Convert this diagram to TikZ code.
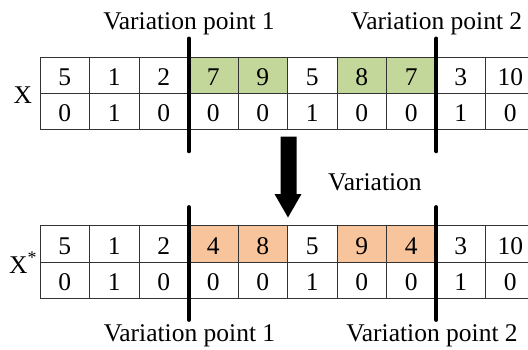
\documentclass[tikz,border=0pt]{standalone}
\usepackage{fontspec}
\setmainfont{Liberation Serif}
\usepackage{tikz}

\definecolor{swapgreen}{RGB}{196,215,155}
\definecolor{swaporange}{RGB}{248,196,155}

\tikzset{
	cell/.style={draw=black!80,line width=0.9pt,minimum width=49.5pt,minimum height=36.5pt,inner sep=0pt,text height=20.5pt,text depth=0pt},
	cutbar/.style={line width=4pt,line cap=round},
	caption/.style={inner sep=0pt,anchor=base}
}

\begin{document}
\begin{tikzpicture}[x=1pt,y=-1pt,font=\fontsize{25.5}{30}\selectfont]
	\useasboundingbox (0,0) rectangle (528,349);
	\clip (0,0) rectangle (528,349);

	% parent X
	\foreach \v/\c [count=\i] in {5/white,1/white,2/white,7/swapgreen,9/swapgreen,5/white,8/swapgreen,7/swapgreen,3/white,10/white}
		\node [cell,fill=\c] (X1-\i) at (40+\i*49.5-24.75,75.2) {\v};
	\foreach \v [count=\i] in {0,1,0,0,0,1,0,0,1,0}
		\node [cell] (X2-\i) at (40+\i*49.5-24.75,111.6) {\v};

	% child X*
	\foreach \v/\c [count=\i] in {5/white,1/white,2/white,4/swaporange,8/swaporange,5/white,9/swaporange,4/swaporange,3/white,10/white}
		\node [cell,fill=\c] (Y1-\i) at (40+\i*49.5-24.75,243.8) {\v};
	\foreach \v [count=\i] in {0,1,0,0,0,1,0,0,1,0}
		\node [cell] (Y2-\i) at (40+\i*49.5-24.75,280.2) {\v};

	\node [inner sep=0pt,anchor=base west] (X) at (13.5,103) {X};
	\node [inner sep=0pt,anchor=base west] (Xs) at (9,273) {X\textsuperscript{*}};

	% variation points
	\draw [cutbar] ([yshift=18pt]X1-3.north east) -- ([yshift=-21pt]X2-3.south east);
	\draw [cutbar] ([yshift=18pt]X1-8.north east) -- ([yshift=-21pt]X2-8.south east);
	\draw [cutbar] ([yshift=18pt]Y1-3.north east) -- ([yshift=-21pt]Y2-3.south east);
	\draw [cutbar] ([yshift=18pt]Y1-8.north east) -- ([yshift=-21pt]Y2-8.south east);

	\node [caption] (p1) at (189,29.5) {Variation point 1};
	\node [caption] (p2) at (436.5,29.5) {Variation point 2};
	\node [caption] (q1) at (189.5,341.5) {Variation point 1};
	\node [caption] (q2) at (432,341.5) {Variation point 2};

	% block arrow
	\fill (280.5,136.5) -- (296.5,136.5) -- (296.5,194) -- (301.5,194) -- (288,217.5) -- (274.5,194) -- (280.5,194) -- cycle;
	\node [inner sep=0pt,anchor=base west] (var) at (328,190.5) {Variation};
\end{tikzpicture}
\end{document}
